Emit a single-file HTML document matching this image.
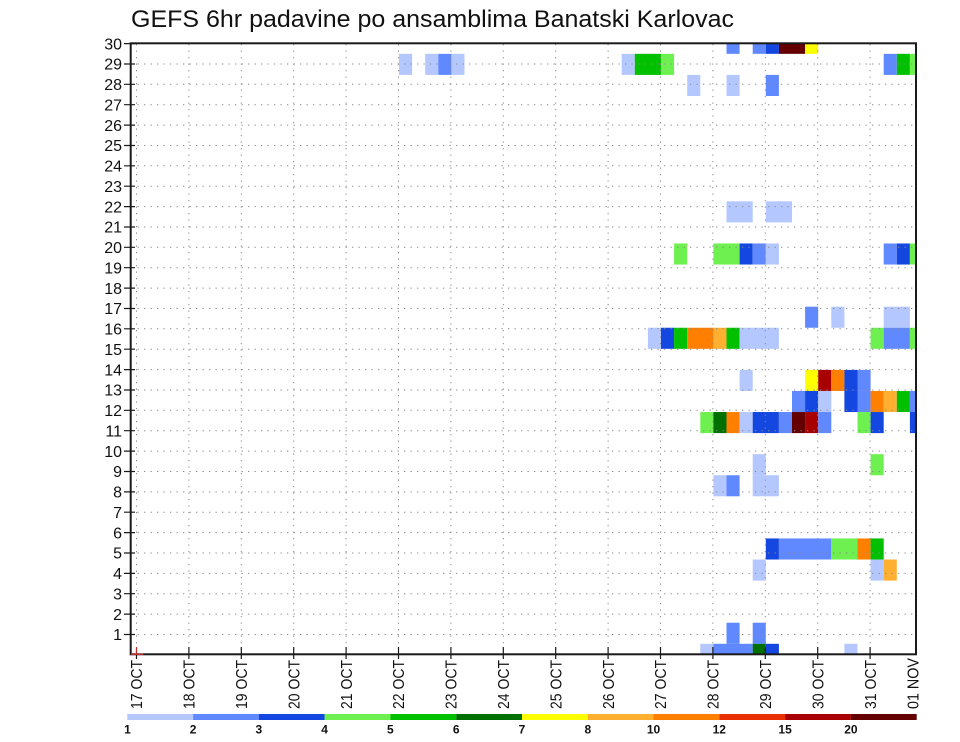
<!DOCTYPE html>
<html><head><meta charset="utf-8"><style>
html,body{margin:0;padding:0;background:#fff;}
svg{display:block;}
text{font-family:"Liberation Sans",sans-serif;fill:#111;}
</style></head><body>
<svg width="960" height="742" viewBox="0 0 960 742" xmlns="http://www.w3.org/2000/svg">
<defs><clipPath id="pc"><rect x="130.7" y="43.3" width="785.3" height="611"/></clipPath></defs>
<rect width="960" height="742" fill="#fff"/>
<text x="131" y="27" font-size="24" textLength="603" lengthAdjust="spacingAndGlyphs">GEFS 6hr padavine po ansamblima Banatski Karlovac</text>
<g clip-path="url(#pc)">
<!-- row 0 -->
<rect x="726.5" y="32.77" width="13.1" height="21.07" fill="#6088ff"/>
<rect x="752.7" y="32.77" width="13.1" height="21.07" fill="#6088ff"/>
<rect x="765.8" y="32.77" width="13.1" height="21.07" fill="#1446e0"/>
<rect x="778.9" y="32.77" width="26.2" height="21.07" fill="#640000"/>
<rect x="805.1" y="32.77" width="13.1" height="21.07" fill="#ffff00"/>
<!-- row 1 -->
<rect x="399.0" y="53.84" width="13.1" height="21.07" fill="#b4c8ff"/>
<rect x="425.2" y="53.84" width="13.1" height="21.07" fill="#b4c8ff"/>
<rect x="438.3" y="53.84" width="13.1" height="21.07" fill="#6088ff"/>
<rect x="451.4" y="53.84" width="13.1" height="21.07" fill="#b4c8ff"/>
<rect x="621.7" y="53.84" width="13.1" height="21.07" fill="#b4c8ff"/>
<rect x="634.8" y="53.84" width="26.2" height="21.07" fill="#00c000"/>
<rect x="661.0" y="53.84" width="13.1" height="21.07" fill="#6ef050"/>
<rect x="883.7" y="53.84" width="13.1" height="21.07" fill="#6088ff"/>
<rect x="896.8" y="53.84" width="13.1" height="21.07" fill="#00c000"/>
<rect x="909.9" y="53.84" width="13.1" height="21.07" fill="#6ef050"/>
<!-- row 2 -->
<rect x="687.2" y="74.91" width="13.1" height="21.07" fill="#b4c8ff"/>
<rect x="726.5" y="74.91" width="13.1" height="21.07" fill="#b4c8ff"/>
<rect x="765.8" y="74.91" width="13.1" height="21.07" fill="#6088ff"/>
<!-- row 8 -->
<rect x="726.5" y="201.33" width="26.2" height="21.07" fill="#b4c8ff"/>
<rect x="765.8" y="201.33" width="26.2" height="21.07" fill="#b4c8ff"/>
<!-- row 10 -->
<rect x="674.1" y="243.47" width="13.1" height="21.07" fill="#6ef050"/>
<rect x="713.4" y="243.47" width="26.2" height="21.07" fill="#6ef050"/>
<rect x="739.6" y="243.47" width="13.1" height="21.07" fill="#1446e0"/>
<rect x="752.7" y="243.47" width="13.1" height="21.07" fill="#6088ff"/>
<rect x="765.8" y="243.47" width="13.1" height="21.07" fill="#b4c8ff"/>
<rect x="883.7" y="243.47" width="13.1" height="21.07" fill="#6088ff"/>
<rect x="896.8" y="243.47" width="13.1" height="21.07" fill="#1446e0"/>
<rect x="909.9" y="243.47" width="13.1" height="21.07" fill="#6ef050"/>
<!-- row 13 -->
<rect x="805.1" y="306.68" width="13.1" height="21.07" fill="#6088ff"/>
<rect x="831.3" y="306.68" width="13.1" height="21.07" fill="#b4c8ff"/>
<rect x="883.7" y="306.68" width="26.2" height="21.07" fill="#b4c8ff"/>
<!-- row 14 -->
<rect x="647.9" y="327.75" width="13.1" height="21.07" fill="#b4c8ff"/>
<rect x="661.0" y="327.75" width="13.1" height="21.07" fill="#1446e0"/>
<rect x="674.1" y="327.75" width="13.1" height="21.07" fill="#00c000"/>
<rect x="687.2" y="327.75" width="26.2" height="21.07" fill="#ff8000"/>
<rect x="713.4" y="327.75" width="13.1" height="21.07" fill="#ffb030"/>
<rect x="726.5" y="327.75" width="13.1" height="21.07" fill="#00c000"/>
<rect x="739.6" y="327.75" width="39.3" height="21.07" fill="#b4c8ff"/>
<rect x="870.6" y="327.75" width="13.1" height="21.07" fill="#6ef050"/>
<rect x="883.7" y="327.75" width="26.2" height="21.07" fill="#6088ff"/>
<rect x="909.9" y="327.75" width="13.1" height="21.07" fill="#6ef050"/>
<!-- row 16 -->
<rect x="739.6" y="369.89" width="13.1" height="21.07" fill="#b4c8ff"/>
<rect x="805.1" y="369.89" width="13.1" height="21.07" fill="#ffff00"/>
<rect x="818.2" y="369.89" width="13.1" height="21.07" fill="#a80000"/>
<rect x="831.3" y="369.89" width="13.1" height="21.07" fill="#ff8000"/>
<rect x="844.4" y="369.89" width="13.1" height="21.07" fill="#1446e0"/>
<rect x="857.5" y="369.89" width="13.1" height="21.07" fill="#6088ff"/>
<!-- row 17 -->
<rect x="792.0" y="390.96" width="13.1" height="21.07" fill="#6088ff"/>
<rect x="805.1" y="390.96" width="13.1" height="21.07" fill="#1446e0"/>
<rect x="818.2" y="390.96" width="13.1" height="21.07" fill="#b4c8ff"/>
<rect x="844.4" y="390.96" width="13.1" height="21.07" fill="#1446e0"/>
<rect x="857.5" y="390.96" width="13.1" height="21.07" fill="#6088ff"/>
<rect x="870.6" y="390.96" width="13.1" height="21.07" fill="#ff8000"/>
<rect x="883.7" y="390.96" width="13.1" height="21.07" fill="#ffb030"/>
<rect x="896.8" y="390.96" width="13.1" height="21.07" fill="#00c000"/>
<rect x="909.9" y="390.96" width="13.1" height="21.07" fill="#6088ff"/>
<!-- row 18 -->
<rect x="700.3" y="412.03" width="13.1" height="21.07" fill="#6ef050"/>
<rect x="713.4" y="412.03" width="13.1" height="21.07" fill="#007000"/>
<rect x="726.5" y="412.03" width="13.1" height="21.07" fill="#ff8000"/>
<rect x="739.6" y="412.03" width="13.1" height="21.07" fill="#b4c8ff"/>
<rect x="752.7" y="412.03" width="26.2" height="21.07" fill="#1446e0"/>
<rect x="778.9" y="412.03" width="13.1" height="21.07" fill="#6088ff"/>
<rect x="792.0" y="412.03" width="13.1" height="21.07" fill="#640000"/>
<rect x="805.1" y="412.03" width="13.1" height="21.07" fill="#a80000"/>
<rect x="818.2" y="412.03" width="13.1" height="21.07" fill="#6088ff"/>
<rect x="857.5" y="412.03" width="13.1" height="21.07" fill="#6ef050"/>
<rect x="870.6" y="412.03" width="13.1" height="21.07" fill="#1446e0"/>
<rect x="909.9" y="412.03" width="13.1" height="21.07" fill="#1446e0"/>
<!-- row 20 -->
<rect x="752.7" y="454.17" width="13.1" height="21.07" fill="#b4c8ff"/>
<rect x="870.6" y="454.17" width="13.1" height="21.07" fill="#6ef050"/>
<!-- row 21 -->
<rect x="713.4" y="475.24" width="13.1" height="21.07" fill="#b4c8ff"/>
<rect x="726.5" y="475.24" width="13.1" height="21.07" fill="#6088ff"/>
<rect x="752.7" y="475.24" width="26.2" height="21.07" fill="#b4c8ff"/>
<!-- row 24 -->
<rect x="765.8" y="538.45" width="13.1" height="21.07" fill="#1446e0"/>
<rect x="778.9" y="538.45" width="52.4" height="21.07" fill="#6088ff"/>
<rect x="831.3" y="538.45" width="26.2" height="21.07" fill="#6ef050"/>
<rect x="857.5" y="538.45" width="13.1" height="21.07" fill="#ff8000"/>
<rect x="870.6" y="538.45" width="13.1" height="21.07" fill="#00c000"/>
<!-- row 25 -->
<rect x="752.7" y="559.52" width="13.1" height="21.07" fill="#b4c8ff"/>
<rect x="870.6" y="559.52" width="13.1" height="21.07" fill="#b4c8ff"/>
<rect x="883.7" y="559.52" width="13.1" height="21.07" fill="#ffb030"/>
<!-- row 28 -->
<rect x="726.5" y="622.73" width="13.1" height="21.07" fill="#6088ff"/>
<rect x="752.7" y="622.73" width="13.1" height="21.07" fill="#6088ff"/>
<!-- row 29 -->
<rect x="700.3" y="643.80" width="13.1" height="21.07" fill="#b4c8ff"/>
<rect x="713.4" y="643.80" width="39.3" height="21.07" fill="#6088ff"/>
<rect x="752.7" y="643.80" width="13.1" height="21.07" fill="#007000"/>
<rect x="765.8" y="643.80" width="13.1" height="21.07" fill="#1446e0"/>
<rect x="844.4" y="643.80" width="13.1" height="21.07" fill="#b4c8ff"/>
</g>
<!-- grid -->
<g stroke="#8a8a8a" stroke-width="1" stroke-dasharray="1.3 5.2" fill="none">
<path d="M131 634.5H916M131 614.1H916M131 593.7H916M131 573.4H916M131 553.0H916M131 532.6H916M131 512.2H916M131 491.9H916M131 471.5H916M131 451.1H916M131 430.7H916M131 410.3H916M131 390.0H916M131 369.6H916M131 349.2H916M131 328.8H916M131 308.5H916M131 288.1H916M131 267.7H916M131 247.3H916M131 227.0H916M131 206.6H916M131 186.2H916M131 165.8H916M131 145.5H916M131 125.1H916M131 104.7H916M131 84.3H916M131 64.0H916"/>
<path d="M136.5 44V654M188.9 44V654M241.3 44V654M293.7 44V654M346.1 44V654M398.5 44V654M450.9 44V654M503.3 44V654M555.7 44V654M608.1 44V654M660.5 44V654M712.9 44V654M765.3 44V654M817.7 44V654M870.1 44V654"/>
</g>
<!-- axes border -->
<rect x="130.7" y="43.3" width="785.3" height="611" fill="none" stroke="#1a1a1a" stroke-width="2"/>
<!-- y ticks -->
<g stroke="#1a1a1a" stroke-width="1.2">
<path d="M124 634.5H135M124 614.1H135M124 593.7H135M124 573.4H135M124 553.0H135M124 532.6H135M124 512.2H135M124 491.9H135M124 471.5H135M124 451.1H135M124 430.7H135M124 410.3H135M124 390.0H135M124 369.6H135M124 349.2H135M124 328.8H135M124 308.5H135M124 288.1H135M124 267.7H135M124 247.3H135M124 227.0H135M124 206.6H135M124 186.2H135M124 165.8H135M124 145.5H135M124 125.1H135M124 104.7H135M124 84.3H135M124 64.0H135M124 43.6H135"/>
<path d="M188.9 647V659M241.3 647V659M293.7 647V659M346.1 647V659M398.5 647V659M450.9 647V659M503.3 647V659M555.7 647V659M608.1 647V659M660.5 647V659M712.9 647V659M765.3 647V659M817.7 647V659M870.1 647V659M136.5 655V659"/>
</g>
<g stroke="#c03030" stroke-width="1.3"><path d="M136.5 647V654.5M130.7 654.3H143.3"/></g>
<!-- y labels -->
<g font-size="16" text-anchor="end">
<text x="122" y="640.2">1</text><text x="122" y="619.8">2</text><text x="122" y="599.4">3</text><text x="122" y="579.1">4</text><text x="122" y="558.7">5</text><text x="122" y="538.3">6</text><text x="122" y="517.9">7</text><text x="122" y="497.6">8</text><text x="122" y="477.2">9</text><text x="122" y="456.8">10</text><text x="122" y="436.4">11</text><text x="122" y="416.0">12</text><text x="122" y="395.7">13</text><text x="122" y="375.3">14</text><text x="122" y="354.9">15</text><text x="122" y="334.5">16</text><text x="122" y="314.2">17</text><text x="122" y="293.8">18</text><text x="122" y="273.4">19</text><text x="122" y="253.0">20</text><text x="122" y="232.7">21</text><text x="122" y="212.3">22</text><text x="122" y="191.9">23</text><text x="122" y="171.5">24</text><text x="122" y="151.2">25</text><text x="122" y="130.8">26</text><text x="122" y="110.4">27</text><text x="122" y="90.0">28</text><text x="122" y="69.7">29</text><text x="122" y="49.3">30</text>
</g>
<!-- x labels -->
<g font-size="16">
<text transform="translate(142.2,709) rotate(-90)" textLength="49" lengthAdjust="spacingAndGlyphs">17 OCT</text>
<text transform="translate(194.6,709) rotate(-90)" textLength="49" lengthAdjust="spacingAndGlyphs">18 OCT</text>
<text transform="translate(247.0,709) rotate(-90)" textLength="49" lengthAdjust="spacingAndGlyphs">19 OCT</text>
<text transform="translate(299.4,709) rotate(-90)" textLength="49" lengthAdjust="spacingAndGlyphs">20 OCT</text>
<text transform="translate(351.8,709) rotate(-90)" textLength="49" lengthAdjust="spacingAndGlyphs">21 OCT</text>
<text transform="translate(404.2,709) rotate(-90)" textLength="49" lengthAdjust="spacingAndGlyphs">22 OCT</text>
<text transform="translate(456.6,709) rotate(-90)" textLength="49" lengthAdjust="spacingAndGlyphs">23 OCT</text>
<text transform="translate(509.0,709) rotate(-90)" textLength="49" lengthAdjust="spacingAndGlyphs">24 OCT</text>
<text transform="translate(561.4,709) rotate(-90)" textLength="49" lengthAdjust="spacingAndGlyphs">25 OCT</text>
<text transform="translate(613.8,709) rotate(-90)" textLength="49" lengthAdjust="spacingAndGlyphs">26 OCT</text>
<text transform="translate(666.2,709) rotate(-90)" textLength="49" lengthAdjust="spacingAndGlyphs">27 OCT</text>
<text transform="translate(718.6,709) rotate(-90)" textLength="49" lengthAdjust="spacingAndGlyphs">28 OCT</text>
<text transform="translate(771.0,709) rotate(-90)" textLength="49" lengthAdjust="spacingAndGlyphs">29 OCT</text>
<text transform="translate(823.4,709) rotate(-90)" textLength="49" lengthAdjust="spacingAndGlyphs">30 OCT</text>
<text transform="translate(875.8,709) rotate(-90)" textLength="49" lengthAdjust="spacingAndGlyphs">31 OCT</text>
<text transform="translate(918.6,709) rotate(-90)" textLength="51" lengthAdjust="spacingAndGlyphs">01 NOV</text>
</g>
<!-- colorbar -->
<g>
<rect x="127.3" y="714" width="65.8" height="6" fill="#b4c8ff"/>
<rect x="193.1" y="714" width="65.8" height="6" fill="#6088ff"/>
<rect x="258.9" y="714" width="65.8" height="6" fill="#1446e0"/>
<rect x="324.6" y="714" width="65.8" height="6" fill="#6ef050"/>
<rect x="390.4" y="714" width="65.8" height="6" fill="#00c000"/>
<rect x="456.2" y="714" width="65.8" height="6" fill="#007000"/>
<rect x="522.0" y="714" width="65.8" height="6" fill="#ffff00"/>
<rect x="587.8" y="714" width="65.8" height="6" fill="#ffb030"/>
<rect x="653.5" y="714" width="65.8" height="6" fill="#ff8000"/>
<rect x="719.3" y="714" width="65.8" height="6" fill="#e83000"/>
<rect x="785.1" y="714" width="65.8" height="6" fill="#a80000"/>
<rect x="850.9" y="714" width="65.8" height="6" fill="#640000"/>
</g>
<g font-size="12" font-weight="bold" text-anchor="middle">
<text x="127.5" y="733.5">1</text><text x="193.1" y="733.5">2</text><text x="258.9" y="733.5">3</text><text x="324.6" y="733.5">4</text><text x="390.4" y="733.5">5</text><text x="456.2" y="733.5">6</text><text x="522.0" y="733.5">7</text><text x="587.8" y="733.5">8</text><text x="653.5" y="733.5">10</text><text x="719.3" y="733.5">12</text><text x="785.1" y="733.5">15</text><text x="850.9" y="733.5">20</text>
</g>
</svg>
</body></html>
